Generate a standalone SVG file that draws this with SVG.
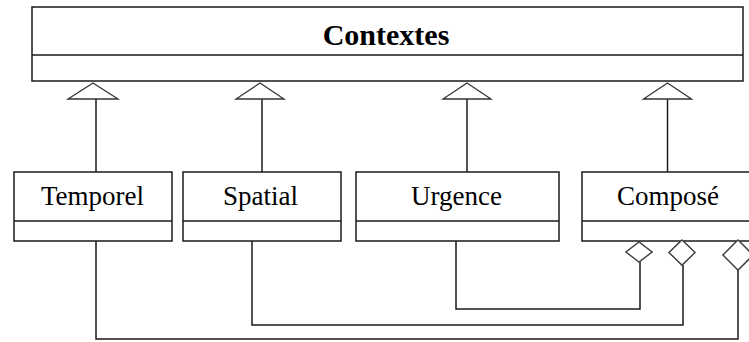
<svg xmlns="http://www.w3.org/2000/svg" width="749" height="342" viewBox="0 0 749 342">
  <style>
    .box { fill: #ffffff; stroke: #1a1a1a; stroke-width: 1.5; }
    .sep { stroke: #1a1a1a; stroke-width: 1.5; fill: none; }
    .label { font-family: "Liberation Serif", "Times New Roman", serif; font-size: 27px; fill: #000; text-anchor: middle; }
    .title { font-family: "Liberation Serif", "Times New Roman", serif; font-size: 30px; font-weight: bold; fill: #000; text-anchor: middle; }
    .line { fill: none; stroke: #1a1a1a; stroke-width: 1.5; }
    .tri { fill: #ffffff; stroke: #333333; stroke-width: 1.3; stroke-linejoin: miter; }
    .dia { fill: #ffffff; stroke: #444444; stroke-width: 1.3; }
  </style>
  <rect width="749" height="342" fill="#ffffff"/>

  <g id="connectors">
    <!-- generalization lines -->
    <line class="line" x1="96" y1="172" x2="96" y2="99"/>
    <line class="line" x1="262" y1="172" x2="262" y2="99"/>
    <line class="line" x1="467" y1="172" x2="467" y2="99"/>
    <line class="line" x1="667.5" y1="172" x2="667.5" y2="99"/>
    <!-- generalization triangles -->
    <polygon class="tri" points="93,83 118,99 68,99"/>
    <polygon class="tri" points="260,83 284,99 236,99"/>
    <polygon class="tri" points="467,83 491,99 443,99"/>
    <polygon class="tri" points="667.5,83 691.5,99 643.5,99"/>
    <!-- aggregation lines -->
    <polyline class="line" points="456,241 456,309 640,309 640,262"/>
    <polyline class="line" points="252,241 252,325 683,325 683,265"/>
    <polyline class="line" points="96,241 96,339 738,339 738,270"/>
    <!-- aggregation diamonds -->
    <polygon class="dia" points="639,242 652,252 639,262 626,252"/>
    <polygon class="dia" points="682,240 695,252.5 682,265 669,252.5"/>
    <polygon class="dia" points="738,240 753,255 738,270 723,255"/>
  </g>

  <g id="Contextes">
    <rect class="box" x="32" y="7" width="711" height="74"/>
    <line class="sep" x1="32" y1="55" x2="743" y2="55"/>
    <text class="title" x="386" y="45">Contextes</text>
  </g>

  <g id="Temporel">
    <rect class="box" x="14" y="172" width="158" height="69"/>
    <line class="sep" x1="14" y1="221" x2="172" y2="221"/>
    <text class="label" x="92.5" y="205">Temporel</text>
  </g>

  <g id="Spatial">
    <rect class="box" x="183" y="172" width="158" height="69"/>
    <line class="sep" x1="183" y1="221" x2="341" y2="221"/>
    <text class="label" x="260.5" y="205">Spatial</text>
  </g>

  <g id="Urgence">
    <rect class="box" x="356" y="172" width="203" height="69"/>
    <line class="sep" x1="356" y1="221" x2="559" y2="221"/>
    <text class="label" x="456.5" y="205">Urgence</text>
  </g>

  <g id="Compose">
    <rect class="box" x="582" y="172" width="190" height="69"/>
    <line class="sep" x1="582" y1="221" x2="772" y2="221"/>
    <text class="label" x="668" y="205">Composé</text>
  </g>

  <!-- redraw diamonds on top of Composé box edge -->
  <g id="diamonds-top">
    <polygon class="dia" points="639,242 652,252 639,262 626,252"/>
    <polygon class="dia" points="682,240 695,252.5 682,265 669,252.5"/>
    <polygon class="dia" points="738,240 753,255 738,270 723,255"/>
  </g>
</svg>
